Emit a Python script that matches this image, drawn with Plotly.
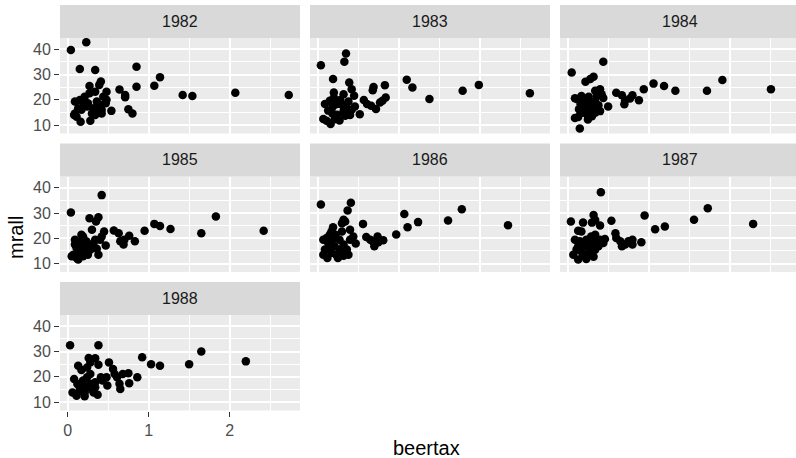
import plotly.graph_objects as go

W, H = 796, 458

years = ["1982", "1983", "1984", "1985", "1986", "1987", "1988"]

beertax_1982 = [0.04,0.23,0.15,0.34,0.85,0.41,0.39,1.14,1.07,0.85,0.64,0.71,0.71,1.42,1.54,2.07,2.73,0.75,0.80,0.27,0.27,0.34,0.48,0.44,0.48,0.47,0.54,0.09,0.15,0.21,0.09,0.11,0.16,0.28,0.24,0.17,0.32,0.36,0.40,0.38,0.42,0.34,0.30,0.25,0.20,0.13,0.08,0.42]
mrall_1982 = [39.7,42.8,32.2,31.8,33.1,27.2,25.9,28.9,25.6,25.2,24.1,21.9,21.0,21.9,21.5,22.8,21.9,16.2,14.6,25.5,22.6,23.2,23.2,21.2,20.0,18.6,15.6,19.3,19.9,21.2,14.6,13.3,11.3,11.7,17.3,16.0,16.6,19.3,17.9,15.3,16.0,14.0,14.6,18.6,18.6,16.6,14.0,14.6]

beertax_1983 = [0.04,0.35,0.33,0.19,0.39,0.42,0.45,0.32,0.20,0.20,1.10,1.17,1.38,1.79,1.99,2.62,0.83,0.69,0.68,0.84,0.80,0.77,0.57,0.61,0.66,0.72,0.52,0.09,0.13,0.07,0.16,0.11,0.27,0.24,0.19,0.30,0.36,0.42,0.32,0.18,0.28,0.38,0.46,0.24,0.34,0.21,0.15,0.40]
mrall_1983 = [33.7,38.3,35.1,28.2,26.8,24.2,21.6,22.2,22.9,20.9,27.9,24.9,20.3,23.6,25.9,22.6,25.8,25.1,23.8,20.9,19.6,18.9,19.9,18.3,17.6,16.3,14.3,18.3,15.7,12.4,10.4,11.7,11.8,14.1,17.4,18.0,16.7,16.0,15.4,14.7,19.9,19.3,17.3,18.3,13.7,12.3,19.6,14.0]

beertax_1984 = [0.05,0.44,0.32,0.28,0.22,0.40,0.34,0.42,0.44,0.60,0.67,0.71,0.70,0.80,0.77,0.88,0.94,1.06,1.19,1.33,1.72,1.91,2.51,0.50,0.15,0.09,0.13,0.25,0.40,0.34,0.30,0.22,0.16,0.12,0.17,0.22,0.28,0.34,0.38,0.14,0.24,0.19,0.32,0.26,0.09,0.30,0.18,0.36]
mrall_1984 = [30.8,35.1,29.1,28.2,27.1,24.2,23.6,22.2,20.7,22.8,21.8,19.8,18.2,21.8,20.5,19.8,24.2,26.4,25.5,23.6,23.6,27.8,24.2,17.3,8.6,12.8,13.2,12.2,15.5,14.9,16.2,16.8,18.2,20.2,21.5,20.2,18.8,19.5,17.8,16.2,14.2,18.8,17.5,21.2,20.6,13.5,14.9,21.5]

beertax_1985 = [0.04,0.42,0.27,0.38,0.35,0.30,0.45,0.42,0.47,0.57,0.63,0.65,0.70,0.76,0.69,0.83,0.95,1.07,1.14,1.27,1.65,1.83,2.42,0.09,0.19,0.15,0.11,0.07,0.13,0.11,0.24,0.19,0.25,0.30,0.36,0.38,0.32,0.23,0.17,0.21,0.28,0.09,0.15,0.19,0.05,0.34,0.17,0.40]
mrall_1985 = [30.2,37.1,27.9,28.3,26.6,23.4,22.7,20.7,17.1,23.1,22.0,18.8,19.4,21.0,17.5,18.8,23.0,25.7,24.9,23.7,22.0,28.6,23.0,19.4,20.7,16.8,16.1,13.5,11.6,12.2,15.5,14.2,13.5,16.8,15.8,13.5,18.1,18.8,18.8,17.5,15.5,17.5,14.8,12.9,12.9,19.4,21.4,19.4]

beertax_1986 = [0.04,0.41,0.37,0.32,0.30,0.34,0.19,0.17,0.15,0.30,0.56,0.40,0.44,0.47,1.07,1.11,1.24,1.61,1.78,2.35,0.97,0.60,0.65,0.74,0.81,0.70,0.75,0.68,0.07,0.07,0.12,0.17,0.23,0.27,0.36,0.38,0.21,0.13,0.27,0.19,0.15,0.32,0.09,0.25,0.32,0.11,0.22,0.40]
mrall_1986 = [33.4,34.1,31.0,27.3,26.0,26.6,24.4,22.7,21.4,22.7,25.7,23.4,20.7,17.9,29.6,24.4,26.4,27.0,31.5,25.2,21.5,20.5,19.4,20.7,19.2,16.8,18.4,18.8,19.4,13.5,12.2,14.2,13.5,15.5,15.5,13.5,16.8,18.1,19.4,19.7,15.5,17.5,15.5,12.2,13.1,20.1,21.4,19.4]

beertax_1987 = [0.41,0.04,0.19,0.32,0.34,0.40,0.30,0.54,0.95,1.08,1.20,1.56,1.73,2.29,0.13,0.17,0.09,0.59,0.60,0.65,0.67,0.75,0.80,0.80,0.91,0.71,0.40,0.44,0.38,0.34,0.29,0.07,0.13,0.23,0.32,0.17,0.21,0.13,0.26,0.15,0.23,0.19,0.11,0.30,0.36,0.34,0.46,0.28]
mrall_1987 = [38.2,26.6,26.2,29.2,27.2,25.1,26.2,26.9,29.0,23.6,24.7,27.3,31.9,25.7,23.0,22.7,19.4,22.0,20.1,18.8,16.8,18.8,19.4,17.5,18.4,17.5,19.4,18.1,16.8,15.5,20.7,13.5,11.6,11.8,12.7,14.8,16.8,16.8,14.2,18.8,19.4,13.5,15.5,18.1,18.8,21.4,19.7,16.1]

beertax_1988 = [0.03,0.38,0.26,0.34,0.28,0.38,0.13,0.17,0.24,0.28,0.51,0.56,0.58,0.61,0.92,1.03,1.14,1.50,1.65,2.20,0.68,0.75,0.76,0.86,0.64,0.65,0.48,0.49,0.43,0.41,0.08,0.06,0.11,0.21,0.32,0.34,0.17,0.23,0.15,0.19,0.28,0.12,0.21,0.30,0.34,0.24,0.15,0.37]
mrall_1988 = [32.5,32.5,27.4,27.3,25.7,24.8,24.4,22.7,19.8,21.1,25.7,23.1,21.1,19.8,27.7,25.0,24.4,25.0,30.0,26.1,21.1,21.4,17.4,19.8,17.2,15.2,19.8,16.5,18.5,19.8,19.1,13.8,12.5,12.3,13.8,15.8,16.5,15.8,14.5,18.5,17.1,17.1,13.8,15.1,17.8,23.7,15.8,12.9]

x_tick_vals = [0, 1, 2]
x_tick_text = ["0", "1", "2"]
y_tick_vals = [10, 20, 30, 40]
y_tick_text = ["10", "20", "30", "40"]

series = {
    "1982": (beertax_1982, mrall_1982),
    "1983": (beertax_1983, mrall_1983),
    "1984": (beertax_1984, mrall_1984),
    "1985": (beertax_1985, mrall_1985),
    "1986": (beertax_1986, mrall_1986),
    "1987": (beertax_1987, mrall_1987),
    "1988": (beertax_1988, mrall_1988),
}

# layout geometry (pixels)
cols = [(60, 300), (310, 550), (560, 796)]
rows = [(38, 133.5), (176.5, 272), (315, 410.5)]
strip_h = 33
px_per_unit = 81.0
x0 = -0.0945
y_range = [6.63, 44.48]

FONT = "Liberation Sans, Arial, Helvetica, sans-serif"

fig = go.Figure()
layout = dict(
    width=W, height=H,
    margin=dict(l=0, r=0, t=0, b=0),
    paper_bgcolor="white", plot_bgcolor="#EBEBEB",
    showlegend=False,
    font=dict(family=FONT),
)
shapes = []
annotations = []

for i, yr in enumerate(years):
    r, c = divmod(i, 3)
    cl, cr = cols[c]
    rt, rb = rows[r]
    idx = "" if i == 0 else str(i + 1)
    xs, ys = series[yr]
    fig.add_trace(go.Scatter(
        x=xs, y=ys, mode="markers",
        marker=dict(color="black", size=8.5, line=dict(width=0)),
        xaxis="x" + idx, yaxis="y" + idx, hoverinfo="x+y",
    ))
    show_x = (yr == "1988")
    show_y = (c == 0)
    layout["xaxis" + idx] = dict(
        domain=[cl / W, cr / W], anchor="y" + idx,
        range=[x0, x0 + (cr - cl) / px_per_unit],
        tickvals=x_tick_vals, ticktext=x_tick_text,
        showgrid=True, gridcolor="white", gridwidth=2.2,
        minor=dict(dtick=0.5, tick0=0, showgrid=True, gridcolor="white", gridwidth=1.1, ticks=""),
        zeroline=False, showline=False,
        showticklabels=show_x, ticks="outside" if show_x else "",
        ticklen=5, tickwidth=1.3, tickcolor="#333333",
        tickfont=dict(size=16, color="#4D4D4D", family=FONT),
        fixedrange=True,
    )
    layout["yaxis" + idx] = dict(
        domain=[1 - rb / H, 1 - rt / H], anchor="x" + idx,
        range=y_range,
        tickvals=y_tick_vals, ticktext=y_tick_text,
        showgrid=True, gridcolor="white", gridwidth=2.2,
        minor=dict(dtick=5, tick0=0, showgrid=True, gridcolor="white", gridwidth=1.1, ticks=""),
        zeroline=False, showline=False,
        showticklabels=show_y, ticks="outside" if show_y else "",
        ticklen=5, tickwidth=1.3, tickcolor="#333333",
        tickfont=dict(size=16, color="#4D4D4D", family=FONT),
        fixedrange=True,
    )
    # strip
    st = rt - strip_h
    shapes.append(dict(
        type="rect", xref="paper", yref="paper",
        x0=cl / W, x1=cr / W, y0=1 - rt / H, y1=1 - st / H,
        fillcolor="#D9D9D9", line=dict(width=0), layer="below",
    ))
    strip_right = cl + 240
    annotations.append(dict(
        text=yr, xref="paper", yref="paper",
        x=(cl + strip_right) / 2 / W, y=1 - (st + strip_h / 2) / H,
        showarrow=False, xanchor="center", yanchor="middle",
        font=dict(size=16, color="#1A1A1A", family=FONT),
    ))

annotations.append(dict(
    text="mrall", xref="paper", yref="paper", x=16 / W, y=1 - 238 / H,
    showarrow=False, textangle=-90, xanchor="center", yanchor="middle",
    font=dict(size=20, color="black", family=FONT),
))
annotations.append(dict(
    text="beertax", xref="paper", yref="paper", x=426 / W, y=1 - 448 / H,
    showarrow=False, xanchor="center", yanchor="middle",
    font=dict(size=20, color="black", family=FONT),
))

layout["shapes"] = shapes
layout["annotations"] = annotations
fig.update_layout(**layout)

# remove the default page margin so the figure fills the window exactly
post = ("document.body.style.margin='0';document.body.style.padding='0';"
        "document.documentElement.style.overflow='hidden';")
fig.write_html("out.html", post_script=post, config={"displayModeBar": False})
